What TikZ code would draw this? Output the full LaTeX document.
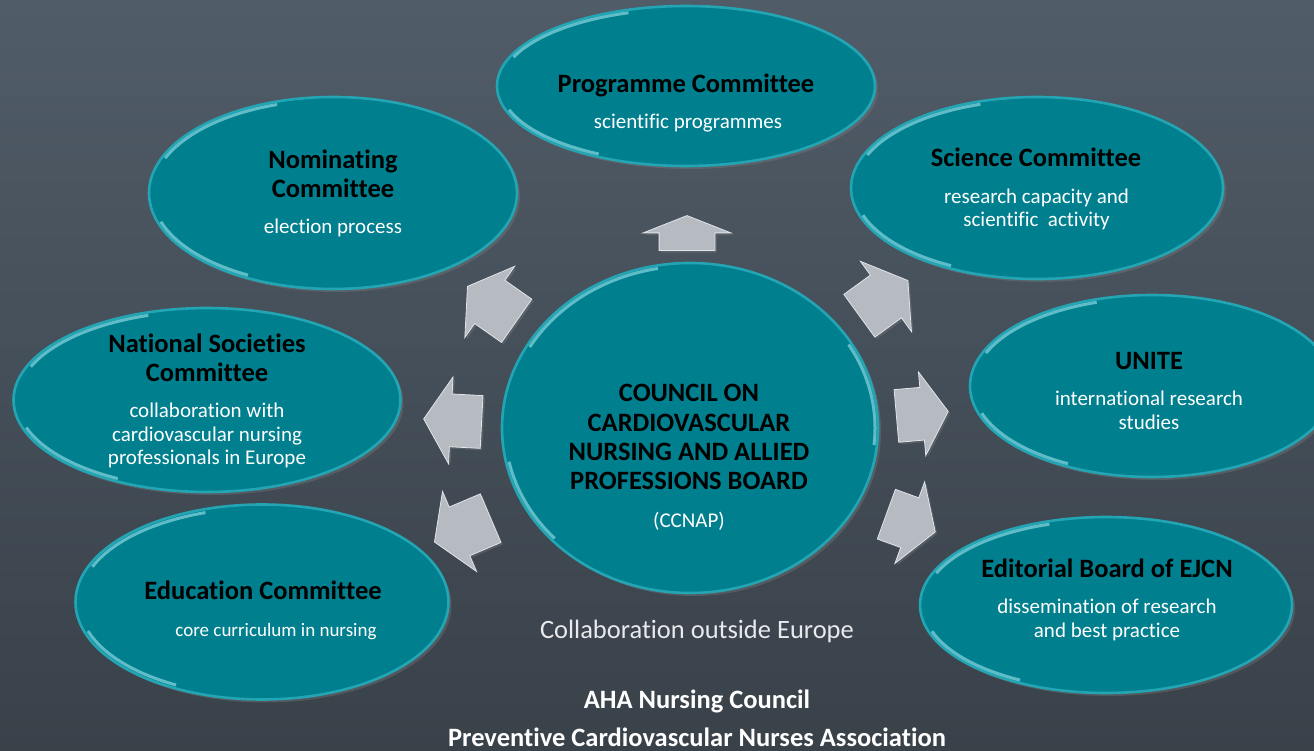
\documentclass[tikz,border=0pt]{standalone}
\usepackage{fontspec}
\setmainfont{Carlito}[Ligatures=NoCommon]
\usetikzlibrary{shapes.geometric,shapes.arrows,shadows}
\definecolor{bgtop}{RGB}{80,92,104}
\definecolor{bgbot}{RGB}{57,65,73}
\definecolor{tealfill}{RGB}{0,128,143}
\definecolor{tealrim}{RGB}{35,165,180}
\definecolor{rimhi}{RGB}{175,240,248}
\definecolor{arrfill}{RGB}{182,186,193}
\definecolor{arredge}{RGB}{225,228,233}
\definecolor{lighttext}{RGB}{232,234,236}
\tikzset{
  bubble/.style={ellipse, draw=tealrim, line width=2.6pt, fill=tealfill, inner sep=0pt,
    drop shadow={shadow xshift=3pt, shadow yshift=-3pt, opacity=0.35}},
  glow/.style={draw=rimhi, line width=3pt, opacity=0.55},
  blockarrow/.style={single arrow, fill=arrfill, draw=arredge, line width=0.8pt,
    inner xsep=0pt, inner ysep=26pt, single arrow head extend=17pt, single arrow tip angle=116,
    anchor=tail, drop shadow={shadow xshift=2pt, shadow yshift=-2pt, opacity=0.35}},
  ttl/.style={font=\fontsize{26.5}{30}\selectfont\bfseries, text=black, anchor=base, inner sep=0pt},
  subtxt/.style={font=\fontsize{21}{24}\selectfont, text=white, anchor=base, inner sep=0pt},
  foot/.style={font=\fontsize{26.5}{30}\selectfont\bfseries, text=white, anchor=base, inner sep=0pt},
}
\newcommand\rimglow[3]{%
  \begin{scope}[shift={(#1.center)}]
    \draw[glow] (-108:#2 and #3) arc[start angle=-108, end angle=-158, x radius=#2, y radius=#3];
    \draw[glow] (162:#2 and #3) arc[start angle=162, end angle=118, x radius=#2, y radius=#3];
  \end{scope}}
\begin{document}
\begin{tikzpicture}[x=1pt,y=-1pt]
\useasboundingbox (0,0) rectangle (1314,751);
\shade[top color=bgtop, bottom color=bgbot] (0,0) rectangle (1314,751);

% ellipses
\node[bubble, minimum width=378pt, minimum height=160pt] (prog) at (686,86) {};
\node[bubble, minimum width=368pt, minimum height=192pt] (nom) at (333,193) {};
\node[bubble, minimum width=372pt, minimum height=182pt] (sci) at (1037,188) {};
\node[bubble, minimum width=387pt, minimum height=184pt] (nat) at (207,400) {};
\node[bubble, minimum width=364pt, minimum height=182pt] (unite) at (1152,386) {};
\node[bubble, minimum width=373pt, minimum height=195pt] (edu) at (262,602) {};
\node[bubble, minimum width=372pt, minimum height=176pt] (edit) at (1106,605) {};
\node[bubble, minimum width=376pt, minimum height=330pt] (ccnap) at (690,428) {};

\rimglow{prog}{186}{77}
\rimglow{nom}{181}{93}
\rimglow{sci}{183}{88}
\rimglow{nat}{190}{89}
\rimglow{unite}{179}{88}
\rimglow{edu}{183}{94}
\rimglow{edit}{183}{85}
\begin{scope}[shift={(ccnap.center)}]
  \draw[glow] (-100:185 and 162) arc[start angle=-100, end angle=-150, x radius=185, y radius=162];
  \draw[glow] (168:185 and 162) arc[start angle=168, end angle=137, x radius=185, y radius=162];
  \draw[glow] (-31:185 and 162) arc[start angle=-31, end angle=6, x radius=185, y radius=162];
\end{scope}

% block arrows
\node[blockarrow, minimum height=35pt, inner ysep=27.5pt, single arrow head extend=16pt,
      single arrow tip angle=137, rotate=90] (aprog) at (687,251) {};
\node[blockarrow, minimum height=60pt, rotate=145] (anom) at (517,321) {};
\node[blockarrow, minimum height=60pt, rotate=36] (asci) at (859,316) {};
\node[blockarrow, minimum height=58pt, rotate=177] (anat) at (482,422) {};
\node[blockarrow, minimum height=52pt, single arrow head extend=15.5pt, rotate=5] (aunite) at (896,416) {};
\node[blockarrow, minimum height=61pt, rotate=203] (aedu) at (491,518) {};
\node[blockarrow, minimum height=52pt, rotate=-20] (aedit) at (886,514) {};

% texts
\node[ttl] (tprog) at (686,93) {Programme Committee};
\node[subtxt] (sprog) at (688,129) {scientific programmes};

\node[ttl] (tnom1) at (333,169) {Nominating};
\node[ttl] (tnom2) at (333,197.5) {Committee};
\node[subtxt] (snom) at (333,233.5) {election process};

\node[ttl] (tsci) at (1036,166.5) {Science Committee};
\node[subtxt] (ssci1) at (1036.5,203.5) {research capacity and};
\node[subtxt] (ssci2) at (1036.5,227) {scientific\ \ activity};

\node[ttl] (tc1) at (689,401.5) {COUNCIL ON};
\node[ttl] (tc2) at (689,431) {CARDIOVASCULAR};
\node[ttl] (tc3) at (689,460) {NURSING AND ALLIED};
\node[ttl] (tc4) at (689,489.5) {PROFESSIONS BOARD};
\node[subtxt] (sc) at (689,527) {(CCNAP)};

\node[ttl] (tnat1) at (207,352) {National Societies};
\node[ttl] (tnat2) at (207,381) {Committee};
\node[subtxt] (snat1) at (207,417.5) {collaboration with};
\node[subtxt] (snat2) at (207,441) {cardiovascular nursing};
\node[subtxt] (snat3) at (207,464.5) {professionals in Europe};

\node[ttl] (tunite) at (1149,369) {UNITE};
\node[subtxt] (sunite1) at (1149,405.5) {international research};
\node[subtxt] (sunite2) at (1149,429) {studies};

\node[ttl] (tedu) at (263,599) {Education Committee};
\node[subtxt, font=\fontsize{19}{22}\selectfont] (sedu) at (276,636) {core curriculum in nursing};

\node[ttl] (tedit) at (1107,577) {Editorial Board of EJCN};
\node[subtxt] (sedit1) at (1107,613.5) {dissemination of research};
\node[subtxt] (sedit2) at (1107,637) {and best practice};

\node[font=\fontsize{26.5}{30}\selectfont, text=lighttext, anchor=base, inner sep=0pt] (collab) at (697,638) {Collaboration outside Europe};
\node[foot] (aha) at (697,708) {AHA Nursing Council};
\node[foot] (pcna) at (697,746) {Preventive Cardiovascular Nurses Association};
\end{tikzpicture}
\end{document}
